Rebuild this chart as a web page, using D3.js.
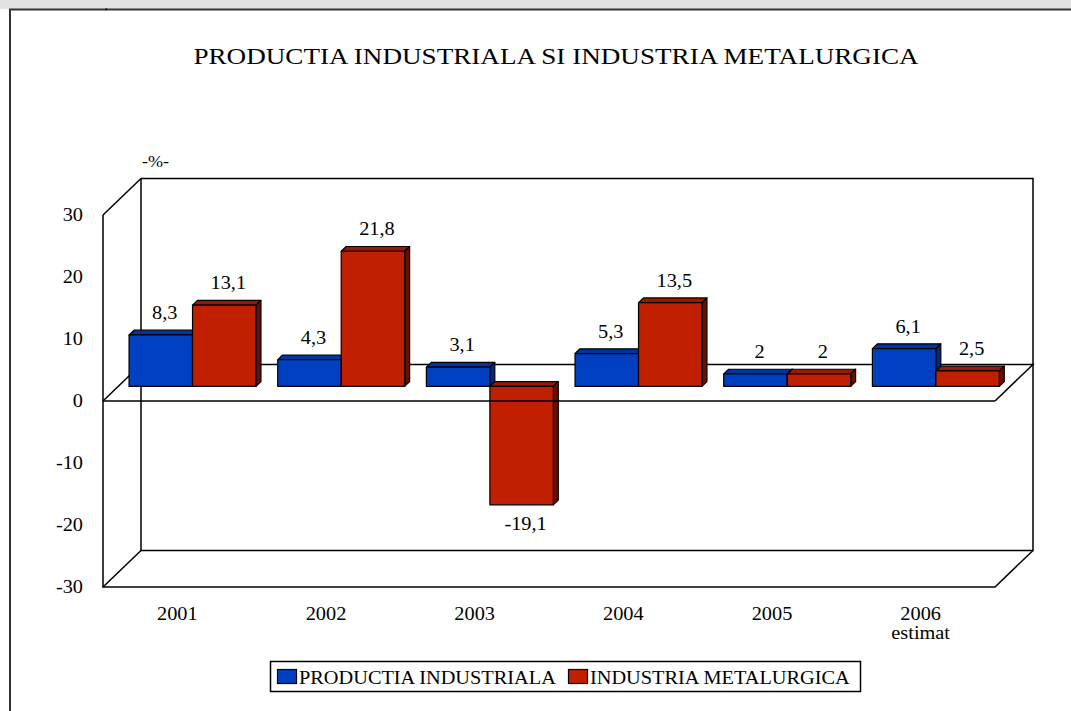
<!DOCTYPE html>
<html>
<head>
<meta charset="utf-8">
<script src="https://cdn.jsdelivr.net/npm/d3@7"></script>
<style>
  body { margin: 0; background: #fff; }
  text { font-family: "Liberation Serif", "Times New Roman", serif; fill: #000; }
</style>
</head>
<body>
<div id="chart"></div>
<script>
const WIDTH = 1071;
const HEIGHT = 711;

const categories = ['2001', '2002', '2003', '2004', '2005', '2006'];
const subLabels = ['', '', '', '', '', 'estimat'];
const series = ['PRODUCTIA INDUSTRIALA', 'INDUSTRIA METALURGICA'];
const productia = [8.3, 4.3, 3.1, 5.3, 2, 6.1];
const metalurgica = [13.1, 21.8, -19.1, 13.5, 2, 2.5];
const yTicks = [-30, -20, -10, 0, 10, 20, 30];

const SX = 1.13; // the original text is a bit stretched sideways
const DX = 38, DY = -36.5; // depth of the 3d box
const F0 = 0.4, F1 = 0.53; // bar front / back depth
const colors = {
  [series[0]]: { front: '#0040c0', top: '#0034a0', side: '#002a80' },
  [series[1]]: { front: '#c02000', top: '#981a00', side: '#681000' }
};

const svg = d3.select('#chart').append('svg')
  .attr('width', WIDTH).attr('height', HEIGHT);

// page frame
svg.append('rect').attr('x', 0).attr('y', 0).attr('width', WIDTH).attr('height', 9).attr('fill', '#e2e2e2');
svg.append('path').attr('d', `M10,${HEIGHT}V9.5H${WIDTH}`).attr('fill', 'none').attr('stroke', '#333').attr('stroke-width', 2);
svg.append('text').attr('x', 105).attr('y', 9).style('font-size', '10px').text(',');

const txt = (x, y, s, size, anchor) =>
  svg.append('text')
    .attr('transform', `translate(${x},${y}) scale(${SX},1)`)
    .attr('text-anchor', anchor || 'middle')
    .style('font-size', size + 'px')
    .text(s);

txt(556, 64, 'PRODUCTIA INDUSTRIALA SI INDUSTRIA METALURGICA', 24);
txt(155.5, 167, '-%-', 16);

const x = d3.scaleBand().domain(categories).range([103, 995])
  .paddingInner(0.146).paddingOuter(0.073);
const x1 = d3.scaleBand().domain(series).range([0, x.bandwidth()]);
const y = d3.scaleLinear().domain([-30, 30]).range([587, 215]);

const X0 = 103, X1 = 995;
const line = (pts) => svg.append('path')
  .attr('d', d3.line()(pts)).attr('fill', 'none')
  .attr('stroke', '#000').attr('stroke-width', 1.5);

// walls
line([[X0 + DX, y(30) + DY], [X1 + DX, y(30) + DY], [X1 + DX, y(-30) + DY], [X0 + DX, y(-30) + DY], [X0 + DX, y(30) + DY]]);
line([[X0, y(30)], [X0 + DX, y(30) + DY]]);
line([[X0, y(30)], [X0, y(-30)], [X1, y(-30)], [X1 + DX, y(-30) + DY]]);
line([[X0, y(-30)], [X0 + DX, y(-30) + DY]]);
// zero plane back edge
line([[X0, y(0)], [X0 + DX, y(0) + DY], [X1 + DX, y(0) + DY], [X1, y(0)]]);

// tick labels
yTicks.forEach(t => txt(83, y(t) + 6, String(t), 18, 'end'));

// bars
const rows = [];
categories.forEach((c, i) => {
  rows.push({ cat: c, s: series[0], v: productia[i] });
  rows.push({ cat: c, s: series[1], v: metalurgica[i] });
});

const fmt = v => String(v).replace('.', ',');
const bdx = (F1 - F0) * DX, bdy = (F1 - F0) * DY;

rows.forEach(d => {
  const xl = x(d.cat) + x1(d.s) + F0 * DX;
  const xr = xl + x1.bandwidth();
  const yt = y(Math.max(d.v, 0)) + F0 * DY;
  const yb = y(Math.min(d.v, 0)) + F0 * DY;
  const col = colors[d.s];
  const g = svg.append('g').attr('stroke', '#000').attr('stroke-width', 1.2).attr('stroke-linejoin', 'round');
  g.append('path').attr('fill', col.top)
    .attr('d', d3.line()([[xl, yt], [xr, yt], [xr + bdx, yt + bdy], [xl + bdx, yt + bdy]]) + 'Z');
  g.append('path').attr('fill', col.side)
    .attr('d', d3.line()([[xr, yt], [xr + bdx, yt + bdy], [xr + bdx, yb + bdy], [xr, yb]]) + 'Z');
  g.append('rect').attr('fill', col.front)
    .attr('x', xl).attr('y', yt).attr('width', x1.bandwidth()).attr('height', yb - yt);
  const cx = (xl + xr) / 2 + 4;
  if (d.v >= 0) txt(cx, yt - 16, fmt(d.v), 18);
  else txt(cx, yb + 25, fmt(d.v), 18);
});

// zero plane front edge
line([[X0, y(0)], [X1, y(0)]]);

// category labels
categories.forEach((c, i) => {
  const cx = x(c) + x.bandwidth() / 2;
  txt(cx, 620, c, 18);
  if (subLabels[i]) txt(cx, 639, subLabels[i], 18);
});

// legend
svg.append('rect').attr('x', 270.5).attr('y', 661.5).attr('width', 590).attr('height', 30)
  .attr('fill', '#fff').attr('stroke', '#000').attr('stroke-width', 1.5);
const legendX = [277, 568];
series.forEach((s, i) => {
  svg.append('rect').attr('x', legendX[i] + 0.5).attr('y', 669.5).attr('width', 19).attr('height', 14)
    .attr('fill', colors[s].front).attr('stroke', '#000').attr('stroke-width', 1.2);
  txt(legendX[i] + 22, 684, s, 18, 'start');
});
</script>
</body>
</html>
